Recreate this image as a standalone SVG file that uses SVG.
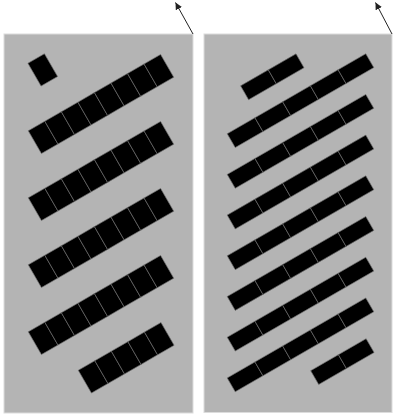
<svg xmlns="http://www.w3.org/2000/svg" width="393" height="419" viewBox="0 0 393 419">
<style>
.bg{fill:#b4b4b4;stroke:#dcdcdc;stroke-width:1}
.p{fill:#000;stroke:#707070;stroke-width:0.6}
.ar{stroke:#222;stroke-width:1;fill:none;marker-end:url(#ah)}
</style>
<defs>
<marker id="ah" viewBox="0 0 10 10" refX="10" refY="5" markerWidth="7" markerHeight="7" markerUnits="userSpaceOnUse" orient="auto">
<path d="M0,0 L10,5 L0,10 Z" fill="#222"/>
</marker>
<g id="L8"><rect class="p" x="-76.4" y="-13.15" width="19.1" height="26.3"/><rect class="p" x="-57.3" y="-13.15" width="19.1" height="26.3"/><rect class="p" x="-38.2" y="-13.15" width="19.1" height="26.3"/><rect class="p" x="-19.1" y="-13.15" width="19.1" height="26.3"/><rect class="p" x="0" y="-13.15" width="19.1" height="26.3"/><rect class="p" x="19.1" y="-13.15" width="19.1" height="26.3"/><rect class="p" x="38.2" y="-13.15" width="19.1" height="26.3"/><rect class="p" x="57.3" y="-13.15" width="19.1" height="26.3"/></g>
<g id="L5"><rect class="p" x="-47.75" y="-13.15" width="19.1" height="26.3"/><rect class="p" x="-28.65" y="-13.15" width="19.1" height="26.3"/><rect class="p" x="-9.55" y="-13.15" width="19.1" height="26.3"/><rect class="p" x="9.55" y="-13.15" width="19.1" height="26.3"/><rect class="p" x="28.65" y="-13.15" width="19.1" height="26.3"/></g>
<g id="R5"><rect class="p" x="-80" y="-8" width="32" height="16"/><rect class="p" x="-48" y="-8" width="32" height="16"/><rect class="p" x="-16" y="-8" width="32" height="16"/><rect class="p" x="16" y="-8" width="32" height="16"/><rect class="p" x="48" y="-8" width="32" height="16"/></g>
<g id="R2"><rect class="p" x="-32" y="-8" width="32" height="16"/><rect class="p" x="0" y="-8" width="32" height="16"/></g>
</defs>
<g id="left-field">
<rect class="bg" x="4" y="34" width="189" height="379"/>
<g id="left-single" transform="translate(42.75,69.9) rotate(-30)"><rect class="p" x="-9.55" y="-13.15" width="19.1" height="26.3"/></g>
<use id="left-row1" href="#L8" transform="translate(101,104) rotate(-30)"/>
<use id="left-row2" href="#L8" transform="translate(101,171) rotate(-30)"/>
<use id="left-row3" href="#L8" transform="translate(101,238) rotate(-30)"/>
<use id="left-row4" href="#L8" transform="translate(101,305) rotate(-30)"/>
<use id="left-row5" href="#L5" transform="translate(126.2,357.8) rotate(-30)"/>
</g>
<g id="right-field">
<rect class="bg" x="204" y="34" width="188" height="378.5"/>
<use id="right-row0" href="#R2" transform="translate(272.3,76.8) rotate(-30)"/>
<use id="right-row1" href="#R5" transform="translate(300.5,100.65) rotate(-30)"/>
<use id="right-row2" href="#R5" transform="translate(300.5,141.35) rotate(-30)"/>
<use id="right-row3" href="#R5" transform="translate(300.5,182.05) rotate(-30)"/>
<use id="right-row4" href="#R5" transform="translate(300.5,222.75) rotate(-30)"/>
<use id="right-row5" href="#R5" transform="translate(300.5,263.45) rotate(-30)"/>
<use id="right-row6" href="#R5" transform="translate(300.5,304.15) rotate(-30)"/>
<use id="right-row7" href="#R5" transform="translate(300.5,344.85) rotate(-30)"/>
<use id="right-row8" href="#R2" transform="translate(342.4,361.6) rotate(-30)"/>
</g>
<g id="connectors">
<line class="ar" x1="193" y1="34" x2="175.5" y2="2.5"/>
<line class="ar" x1="392" y1="34" x2="375.5" y2="2.5"/>
</g>
</svg>
